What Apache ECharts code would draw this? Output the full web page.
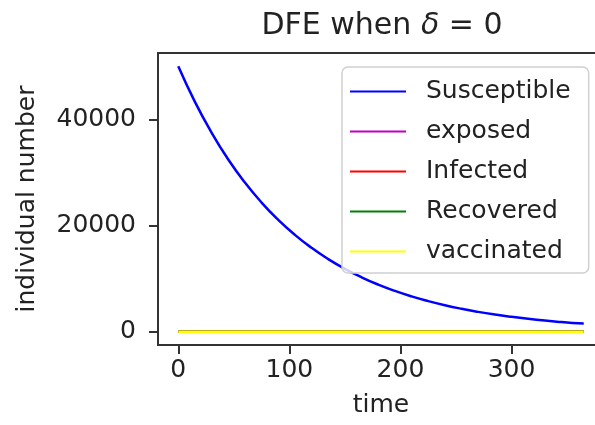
<!DOCTYPE html>
<html>
<head>
<meta charset="utf-8">
<script src="https://cdn.jsdelivr.net/npm/echarts@6/dist/echarts.min.js"></script>
<style>
  html, body { margin: 0; padding: 0; background: #fff; }
  #chart { width: 595px; height: 425px; }
</style>
</head>
<body>
<div id="chart"></div>
<script>
// Time points (days) of the simulation output
const times = [0, 15, 30, 45, 60, 75, 90, 105, 120, 135, 150, 165, 180, 195, 210, 225, 240, 255, 270, 285, 300, 315, 330, 345, 360, 365];
// Compartment sizes at the disease-free equilibrium run
const susceptible = [50000, 43300, 37500, 32450, 28100, 24330, 21080, 18250, 15800, 13680, 11850, 10260, 8880, 7690, 6660, 5770, 4990, 4320, 3740, 3240, 2810, 2430, 2100, 1820, 1580, 1550];
const exposed     = [0, 0, 0, 0, 0, 0, 0, 0, 0, 0, 0, 0, 0, 0, 0, 0, 0, 0, 0, 0, 0, 0, 0, 0, 0, 0];
const infected    = [0, 0, 0, 0, 0, 0, 0, 0, 0, 0, 0, 0, 0, 0, 0, 0, 0, 0, 0, 0, 0, 0, 0, 0, 0, 0];
const recovered   = [0, 0, 0, 0, 0, 0, 0, 0, 0, 0, 0, 0, 0, 0, 0, 0, 0, 0, 0, 0, 0, 0, 0, 0, 0, 0];
const vaccinated  = [0, 0, 0, 0, 0, 0, 0, 0, 0, 0, 0, 0, 0, 0, 0, 0, 0, 0, 0, 0, 0, 0, 0, 0, 0, 0];

const seriesNames = ['Susceptible', 'exposed', 'Infected', 'Recovered', 'vaccinated'];
const seriesValues = [susceptible, exposed, infected, recovered, vaccinated];
const seriesColors = ['#0000ff', '#bf00bf', '#ff0000', '#008000', '#ffff00'];

const xTicks = [0, 100, 200, 300];
const yTicks = [0, 20000, 40000];

const FONT = 'DejaVu Sans';
const INK = '#222';
const SPINE = '#333';

const chart = echarts.init(document.getElementById('chart'), null, { renderer: 'canvas' });

const series = seriesNames.map((name, k) => ({
  name: name,
  type: 'line',
  data: times.map((t, i) => [t, seriesValues[k][i]]),
  showSymbol: false,
  smooth: true,
  lineStyle: { color: seriesColors[k], width: 2.5 },
  itemStyle: { color: seriesColors[k] },
  emphasis: { disabled: true },
  animation: false
}));

chart.setOption({
  animation: false,
  backgroundColor: '#fff',
  title: {
    text: 'DFE when {d|δ} = 0',
    left: 377,
    textAlign: 'center',
    top: 6,
    textStyle: {
      fontFamily: FONT,
      fontSize: 30,
      fontWeight: 'normal',
      color: INK,
      rich: {
        d: { fontFamily: FONT, fontSize: 30, fontStyle: 'italic', color: INK }
      }
    }
  },
  // the plot area runs past the right edge of the canvas
  grid: {
    left: 158,
    top: 53,
    width: 446,
    height: 292,
    outerBoundsMode: 'none',
    containLabel: false,
    show: true,
    borderColor: SPINE,
    borderWidth: 2,
    backgroundColor: 'transparent'
  },
  legend: {
    orient: 'vertical',
    left: 342,
    top: 67,
    itemWidth: 56,
    itemHeight: 2,
    itemGap: 15,
    icon: 'rect',
    padding: [12, 18, 9, 8],
    backgroundColor: 'rgba(255,255,255,0.8)',
    borderColor: '#d0d0d0',
    borderWidth: 1.5,
    borderRadius: 6,
    selectedMode: false,
    textStyle: {
      fontFamily: FONT,
      fontSize: 25,
      lineHeight: 25,
      color: INK,
      padding: [0, 0, 0, 15]
    },
    data: seriesNames
  },
  xAxis: {
    type: 'value',
    min: -18.25,
    max: 383.25,
    name: 'time',
    nameLocation: 'middle',
    nameGap: 48,
    nameTextStyle: { fontFamily: FONT, fontSize: 25, color: INK },
    axisLine: { show: true, onZero: false, lineStyle: { color: SPINE, width: 2 } },
    axisTick: { show: true, length: 9, lineStyle: { color: SPINE, width: 2 }, customValues: xTicks },
    axisLabel: { fontFamily: FONT, fontSize: 25, color: INK, margin: 13, customValues: xTicks, formatter: v => String(v) },
    splitLine: { show: false }
  },
  yAxis: {
    type: 'value',
    min: -2500,
    max: 52500,
    name: 'individual number',
    nameLocation: 'middle',
    nameGap: 118,
    nameTextStyle: { fontFamily: FONT, fontSize: 25, color: INK },
    axisLine: { show: true, onZero: false, lineStyle: { color: SPINE, width: 2 } },
    axisTick: { show: true, length: 9, lineStyle: { color: SPINE, width: 2 }, customValues: yTicks },
    axisLabel: { fontFamily: FONT, fontSize: 25, color: INK, margin: 22, customValues: yTicks, formatter: v => String(v) },
    splitLine: { show: false }
  },
  series: series
});
</script>
</body>
</html>
